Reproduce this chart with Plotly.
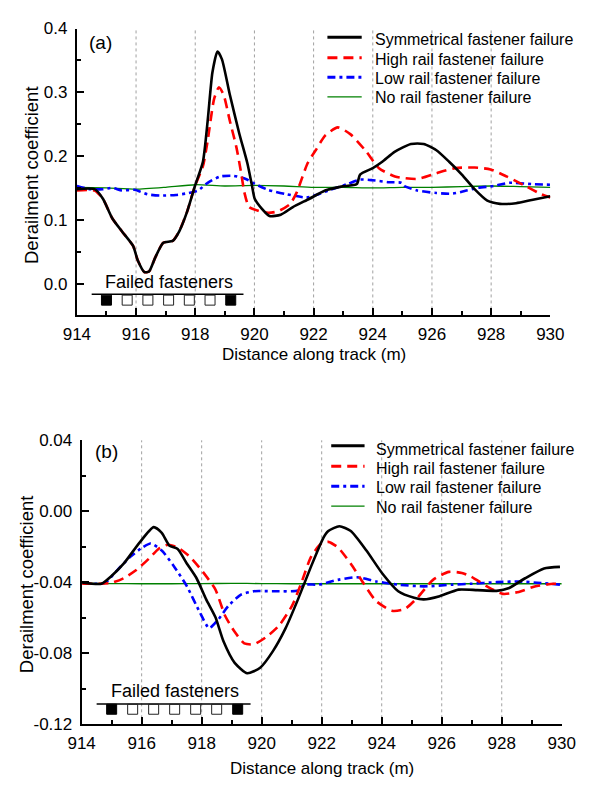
import plotly.graph_objects as go

W, H = 591, 788

# ---------------- data: panel (a) ----------------
a_sym_x = [914.0, 914.6, 914.88, 915.2, 915.52, 915.9, 916.06, 916.28, 916.44, 916.65, 916.92, 917.24,
           917.46, 917.72, 917.99, 918.26, 918.42, 918.58, 918.75, 918.9, 919.17, 919.49, 919.76, 919.92,
           920.01, 920.24, 920.51, 920.89, 921.3, 921.86, 922.39, 922.93, 923.46, 923.57, 924.0, 924.32,
           924.75, 925.29, 925.72, 926.15, 926.58, 927.01, 927.44, 927.87, 928.3, 928.84, 929.37, 930.0]
a_sym_y = [0.148, 0.148, 0.133, 0.102, 0.082, 0.059, 0.036, 0.018, 0.019, 0.041, 0.064, 0.067,
           0.082, 0.112, 0.153, 0.191, 0.255, 0.331, 0.364, 0.352, 0.296, 0.235, 0.189, 0.153,
           0.133, 0.118, 0.106, 0.108, 0.120, 0.133, 0.146, 0.152, 0.156, 0.171, 0.181, 0.191,
           0.207, 0.219, 0.219, 0.209, 0.191, 0.171, 0.148, 0.130, 0.125, 0.126, 0.131, 0.137]

a_high_x = [914.0, 914.6, 914.88, 915.2, 915.52, 915.9, 916.06, 916.28, 916.44, 916.65, 916.92, 917.24,
            917.46, 917.72, 917.99, 918.26, 918.42, 918.64, 918.8, 918.96, 919.17, 919.39, 919.55, 919.66,
            919.82, 920.14, 920.46, 920.78, 921.21, 921.43, 921.8, 922.07, 922.39, 922.82, 923.25, 923.78,
            924.21, 924.75, 925.5, 926.15, 926.79, 927.44, 927.98, 928.52, 929.16, 929.7, 930.0]
a_high_y = [0.146, 0.146, 0.133, 0.102, 0.082, 0.059, 0.036, 0.018, 0.019, 0.041, 0.064, 0.067,
            0.082, 0.112, 0.153, 0.184, 0.224, 0.290, 0.308, 0.296, 0.255, 0.214, 0.174, 0.143,
            0.120, 0.114, 0.111, 0.113, 0.125, 0.143, 0.189, 0.209, 0.232, 0.245, 0.234, 0.207,
            0.181, 0.168, 0.164, 0.173, 0.181, 0.182, 0.179, 0.168, 0.153, 0.140, 0.135]

a_low_x = [914.0, 914.45, 914.88, 915.2, 915.52, 915.95, 916.38, 916.81, 917.35, 917.78, 918.1, 918.42,
           918.85, 919.28, 919.71, 920.03, 920.46, 921.1, 921.75, 922.17, 922.5, 923.14, 923.57, 924.0,
           924.54, 924.97, 925.07, 925.5, 926.15, 926.69, 927.01, 927.55, 928.08, 928.62, 929.37, 930.0]
a_low_y = [0.153, 0.148, 0.148, 0.150, 0.146, 0.147, 0.140, 0.138, 0.139, 0.142, 0.146, 0.158,
           0.168, 0.169, 0.164, 0.156, 0.147, 0.140, 0.135, 0.140, 0.146, 0.156, 0.163, 0.162,
           0.159, 0.158, 0.153, 0.146, 0.142, 0.141, 0.144, 0.150, 0.153, 0.158, 0.156, 0.155]

a_none_x = list(range(914, 931))
a_none_y = [0.151, 0.150, 0.148, 0.151, 0.155, 0.153, 0.154, 0.153, 0.151, 0.151, 0.150, 0.151,
            0.151, 0.152, 0.153, 0.152, 0.151]

# ---------------- data: panel (b) ----------------
b_sym_x = [914.02, 914.66, 914.97, 915.4, 915.93, 916.4, 916.67, 916.93, 917.2, 917.51, 917.83, 918.15,
           918.46, 918.73, 919.1, 919.52, 919.95, 920.37, 920.79, 921.21, 921.64, 922.06, 922.22, 922.59,
           922.97, 923.49, 924.02, 924.55, 925.08, 925.4, 925.93, 926.56, 927.19, 927.83, 928.25, 928.78,
           929.41, 929.94]
b_sym_y = [-0.0401, -0.0408, -0.0368, -0.0295, -0.0176, -0.0089, -0.0121, -0.0194, -0.0212, -0.0295,
           -0.0377, -0.0496, -0.0597, -0.0734, -0.0854, -0.0912, -0.0881, -0.0789, -0.0661, -0.0496,
           -0.0313, -0.0148, -0.0111, -0.0084, -0.0111, -0.0221, -0.0350, -0.0450, -0.0487, -0.0496,
           -0.0478, -0.0441, -0.0444, -0.0448, -0.0432, -0.0377, -0.0322, -0.0313]

b_high_x = [914.02, 914.97, 915.4, 915.82, 916.24, 916.56, 916.88, 917.2, 917.62, 918.04, 918.46, 918.78,
            919.1, 919.42, 919.74, 920.16, 920.58, 921.01, 921.32, 921.64, 921.96, 922.22, 922.54, 922.97,
            923.39, 923.81, 924.34, 924.76, 925.19, 925.71, 926.24, 926.67, 926.98, 927.51, 928.04, 928.57,
            929.1, 929.73, 929.94]
b_high_y = [-0.0408, -0.0404, -0.0377, -0.0331, -0.0267, -0.0212, -0.0188, -0.0203, -0.0258, -0.0341,
            -0.0441, -0.0588, -0.0679, -0.0744, -0.0749, -0.0707, -0.0643, -0.0533, -0.0404, -0.0258,
            -0.0185, -0.0172, -0.0203, -0.0295, -0.0404, -0.0505, -0.0560, -0.0551, -0.0487, -0.0386,
            -0.0341, -0.0347, -0.0368, -0.0423, -0.0465, -0.0454, -0.0423, -0.0408, -0.0408]

b_low_x = [914.02, 914.76, 915.19, 915.61, 916.03, 916.3, 916.67, 917.09, 917.51, 917.94, 918.25, 918.57,
           918.89, 919.31, 919.74, 920.37, 921.21, 921.42, 921.9, 922.54, 923.17, 923.81, 924.55, 925.4,
           926.35, 926.98, 927.83, 928.57, 929.31, 929.94]
b_low_y = [-0.0404, -0.0404, -0.0331, -0.0258, -0.0203, -0.0181, -0.0221, -0.0313, -0.0423, -0.0570,
           -0.0658, -0.0606, -0.0533, -0.0469, -0.0450, -0.0450, -0.0446, -0.0413, -0.0413, -0.0386,
           -0.0371, -0.0395, -0.0413, -0.0423, -0.0413, -0.0408, -0.0399, -0.0395, -0.0404, -0.0413]

b_none_x = list(range(914, 931))
b_none_y = [-0.0405, -0.0407, -0.0408, -0.0408, -0.0407, -0.0406, -0.0407, -0.0408, -0.0408, -0.0408,
            -0.0408, -0.0408, -0.0408, -0.0408, -0.0408, -0.0408, -0.0408]

# ---------------- labels / ticks ----------------
series_names = ["Symmetrical fastener failure", "High rail fastener failure",
                "Low rail fastener failure", "No rail fastener failure"]
x_ticks = [914, 916, 918, 920, 922, 924, 926, 928, 930]
x_ticklabels = [str(v) for v in x_ticks]
a_y_ticks = [0.0, 0.1, 0.2, 0.3, 0.4]
a_y_ticklabels = ["0.0", "0.1", "0.2", "0.3", "0.4"]
b_y_ticks = [-0.12, -0.08, -0.04, 0.0, 0.04]
b_y_ticklabels = ["-0.12", "-0.08", "-0.04", "0.00", "0.04"]
grid_x = [916, 918, 920, 922, 924, 926, 928]
fastener_x = [915.0, 915.7, 916.4, 917.1, 917.8, 918.5, 919.2]
fastener_failed = [False, True, True, True, True, True, False]
rail_x = [914.5, 919.63]

# ---------------- styling ----------------
FONT = "Arial, 'Liberation Sans', sans-serif"
styles = [
    dict(color="black", width=2.6, dash="solid"),
    dict(color="#ff0000", width=2.6, dash="10px,6px"),
    dict(color="#0000ff", width=2.6, dash="8px,4px,3px,4px"),
    dict(color="#008000", width=1.3, dash="solid"),
]


def px(x):
    return x / W


def py(y):
    return 1 - y / H


fig = go.Figure()

panels = [
    dict(xa="x", ya="y", data=[(a_sym_x, a_sym_y), (a_high_x, a_high_y), (a_low_x, a_low_y), (a_none_x, a_none_y)],
         rail_y=-0.0168, sq_y=-0.026, text_y=0.003),
    dict(xa="x2", ya="y2", data=[(b_sym_x, b_sym_y), (b_high_x, b_high_y), (b_low_x, b_low_y), (b_none_x, b_none_y)],
         rail_y=-0.1085, sq_y=-0.1115, text_y=-0.101),
]

for p in panels:
    # draw in order: none (bottom), low, high, symmetrical on top
    for i in [3, 2, 1, 0]:
        xs, ys = p["data"][i]
        fig.add_trace(go.Scatter(x=xs, y=ys, mode="lines", name=series_names[i],
                                 line=dict(styles[i], shape="spline", smoothing=0.6),
                                 xaxis=p["xa"], yaxis=p["ya"], showlegend=False, hoverinfo="skip"))
    # rail
    fig.add_trace(go.Scatter(x=rail_x, y=[p["rail_y"]] * 2, mode="lines",
                             line=dict(color="black", width=1.5),
                             xaxis=p["xa"], yaxis=p["ya"], showlegend=False, hoverinfo="skip"))
    # fasteners
    fx_ok = [x for x, f in zip(fastener_x, fastener_failed) if not f]
    fx_bad = [x for x, f in zip(fastener_x, fastener_failed) if f]
    fig.add_trace(go.Scatter(x=fx_ok, y=[p["sq_y"]] * len(fx_ok), mode="markers",
                             marker=dict(symbol="square", size=10, color="black",
                                         line=dict(color="black", width=1)),
                             xaxis=p["xa"], yaxis=p["ya"], showlegend=False, hoverinfo="skip"))
    fig.add_trace(go.Scatter(x=fx_bad, y=[p["sq_y"]] * len(fx_bad), mode="markers",
                             marker=dict(symbol="square-open", size=10, color="#222",
                                         line=dict(color="#222", width=1)),
                             xaxis=p["xa"], yaxis=p["ya"], showlegend=False, hoverinfo="skip"))

shapes = []
for xa in ["x", "x2"]:
    for g in grid_x:
        shapes.append(dict(type="line", xref=xa, yref=("y" if xa == "x" else "y2") + " domain",
                           x0=g, x1=g, y0=0, y1=1, layer="below",
                           line=dict(color="#a0a0a0", width=1, dash="3px,3px")))

annotations = []

# manual legends
legend_specs = [
    dict(x0=329, x1=365, tx=377, line_rows=[29, 50, 70, 90], text_rows=[31.5, 51.5, 71.3, 90.5]),
    dict(x0=333, x1=368, tx=378, line_rows=[447.5, 468.5, 489, 509.5], text_rows=[451.5, 471, 490.7, 510.5]),
]
for spec in legend_specs:
    for i in range(4):
        st = styles[i]
        shapes.append(dict(type="line", xref="paper", yref="paper",
                           x0=px(spec["x0"]), x1=px(spec["x1"]),
                           y0=py(spec["line_rows"][i]), y1=py(spec["line_rows"][i]),
                           line=dict(color=st["color"], width=st["width"] + 0.4 if i < 3 else st["width"],
                                     dash=st["dash"])))
        annotations.append(dict(text=series_names[i], xref="paper", yref="paper",
                                x=px(spec["tx"]), y=py(spec["text_rows"][i]),
                                xanchor="left", yanchor="middle", showarrow=False,
                                font=dict(family=FONT, size=16, color="black")))

# panel labels
annotations.append(dict(text="(a)", xref="paper", yref="paper", x=px(91), y=py(34),
                        xanchor="center", yanchor="middle", showarrow=False,
                        font=dict(family=FONT, size=19, color="black")))
annotations.append(dict(text="(b)", xref="paper", yref="paper", x=px(97.5), y=py(453),
                        xanchor="center", yanchor="middle", showarrow=False,
                        font=dict(family=FONT, size=19, color="black")))

# failed fasteners labels
for p in panels:
    annotations.append(dict(text="Failed fasteners", xref=p["xa"], yref=p["ya"],
                            x=(fastener_x[0] + fastener_x[-1]) / 2, y=p["text_y"],
                            xanchor="center", yanchor="middle", showarrow=False,
                            font=dict(family=FONT, size=18, color="black")))

# axis titles
annotations.append(dict(text="Distance along track (m)", xref="paper", yref="paper",
                        x=px(314.5), y=py(354.5), xanchor="center", yanchor="middle", showarrow=False,
                        font=dict(family=FONT, size=17, color="black")))
annotations.append(dict(text="Distance along track (m)", xref="paper", yref="paper",
                        x=px(323), y=py(778), xanchor="center", yanchor="middle", showarrow=False,
                        font=dict(family=FONT, size=17, color="black")))
annotations.append(dict(text="Derailment coefficient", xref="paper", yref="paper",
                        x=px(19), y=py(170), xanchor="center", yanchor="middle", textangle=-90,
                        showarrow=False, font=dict(family=FONT, size=18.5, color="black")))
annotations.append(dict(text="Derailment coefficient", xref="paper", yref="paper",
                        x=px(13), y=py(589), xanchor="center", yanchor="middle", textangle=-90,
                        showarrow=False, font=dict(family=FONT, size=18.5, color="black")))

axis_common = dict(showline=True, linecolor="black", linewidth=2, ticks="inside", ticklen=7,
                   tickwidth=1.5, tickcolor="black", showgrid=False, zeroline=False, mirror=False,
                   tickfont=dict(family=FONT, size=17, color="black"), tickmode="array",
                   fixedrange=True)

fig.update_layout(
    width=W, height=H, margin=dict(l=0, r=0, t=0, b=0),
    paper_bgcolor="white", plot_bgcolor="white", showlegend=False,
    font=dict(family=FONT, color="black"),
    xaxis=dict(axis_common, domain=[px(66), px(563)], anchor="y", range=[914, 930],
               tickvals=x_ticks, ticktext=x_ticklabels, ticklabelstandoff=2,
               minor=dict(ticks="inside", ticklen=4, tickwidth=1.5, tickcolor="black",
                          tickmode="linear", tick0=914, dtick=1, showgrid=False)),
    yaxis=dict(axis_common, domain=[py(314), py(20)], anchor="x", range=[-0.05, 0.4],
               tickvals=a_y_ticks, ticktext=a_y_ticklabels, ticklabelstandoff=4,
               minor=dict(ticks="inside", ticklen=4, tickwidth=1.5, tickcolor="black",
                          tickmode="linear", tick0=0, dtick=0.05, showgrid=False)),
    xaxis2=dict(axis_common, domain=[px(71), px(575)], anchor="y2", range=[914, 930],
                tickvals=x_ticks, ticktext=x_ticklabels, ticklabelstandoff=2,
                minor=dict(ticks="inside", ticklen=4, tickwidth=1.5, tickcolor="black",
                           tickmode="linear", tick0=914, dtick=1, showgrid=False)),
    yaxis2=dict(axis_common, domain=[py(733), py(442)], anchor="x2", range=[-0.12, 0.04],
                tickvals=b_y_ticks, ticktext=b_y_ticklabels, ticklabelstandoff=4,
                minor=dict(ticks="inside", ticklen=4, tickwidth=1.5, tickcolor="black",
                           tickmode="linear", tick0=0, dtick=0.02, showgrid=False)),
    shapes=shapes, annotations=annotations,
)

fig.write_html("out.html")
